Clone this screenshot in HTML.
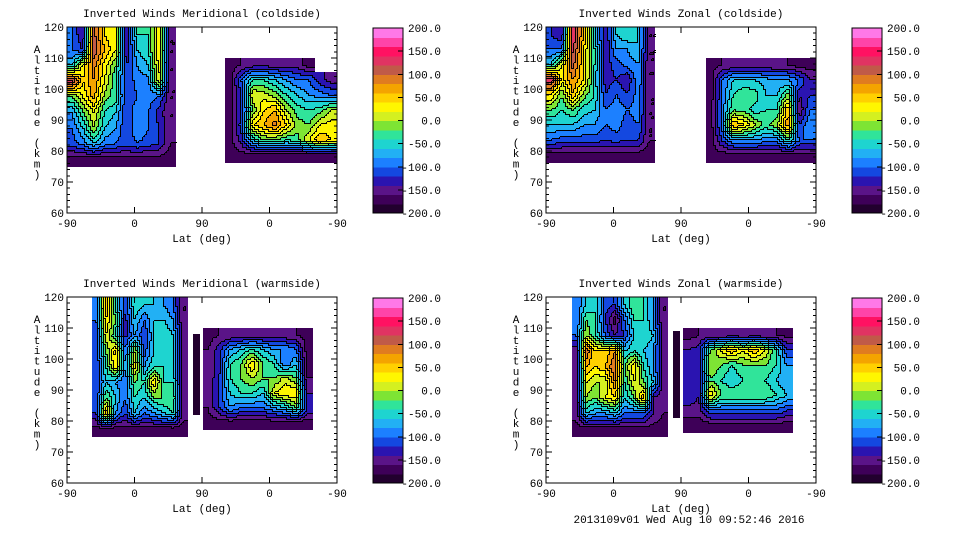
<!DOCTYPE html>
<html><head><meta charset="utf-8"><style>
body{margin:0;background:#fff;width:960px;height:540px;overflow:hidden}
svg{display:block}
text{font-family:"Liberation Mono","DejaVu Sans Mono",monospace;font-size:11px;fill:#000}
</style></head><body>
<svg id="fig" width="960" height="540" xmlns="http://www.w3.org/2000/svg" shape-rendering="crispEdges"></svg>
<script>
const levels=[-200,-180,-160,-140,-120,-100,-80,-60,-40,-20,0,20,40,60,80,100,120,140,160,180,200];
const cbarTicks=[-200,-150,-100,-50,0,50,100,150,200];
const altTicks=[60,70,80,90,100,110,120];
const latTickLabels=["-90","0","90","0","-90"];
const palette=["#22002e","#3e0058","#5a1488","#2a14b0","#1448e0","#1c80ff","#22b0f4","#1ed4d0","#30e49a","#7ee434","#d4f020","#fff600","#ffd000","#f4a400","#e07c20","#c05a48","#e03462","#ff1262","#ff44a8","#ff78e8"];
const titles=["Inverted Winds Meridional (coldside)","Inverted Winds Zonal (coldside)","Inverted Winds Meridional (warmside)","Inverted Winds Zonal (warmside)"];
const N=null;
const p1L=[[-100,-140,110,40,20,-140,-40,-40,40,-160],[-100,-120,120,60,20,-140,-60,-40,40,-160],[-60,30,90,30,-20,-120,-80,-60,30,-160],[130,40,80,20,-40,-120,-90,-90,20,-160],[-20,20,70,-10,-30,-120,-100,-90,-100,-160],[-80,-20,20,-40,-60,-120,-80,-100,-130,-160],[-100,-60,0,-60,-80,-120,-80,-100,-120,-160],[-110,-90,-60,-90,-100,-110,-100,-110,-120,-160],[-170,-170,-170,-170,-170,-170,-170,-170,-170,-170]];
const p1R=[[-170,-160,-150,-150,-150,-150,-150,-170,N,N],[-170,-100,-40,-40,-60,-80,-100,-100,-130,-150],[-170,-120,20,10,-10,-40,-60,-80,-90,-100],[-170,-120,-20,40,60,0,-30,-40,-30,0],[-170,-110,40,60,90,40,-10,-20,20,30],[-170,-130,-60,-20,-20,-40,-30,20,60,40],[-170,-170,-170,-170,-170,-170,-170,-170,-170,-170]];
const p2L=[[-120,-140,140,60,-60,-140,-60,-40,-60,-160],[-100,-100,130,40,-40,-140,-80,-80,-60,-160],[-60,20,110,40,-40,-130,-110,-90,-80,-160],[140,30,80,40,-50,-130,-120,-140,-80,-160],[40,-20,60,-10,-40,-120,-100,-120,-90,-160],[-20,-40,-20,-50,-60,-100,-90,-100,-90,-160],[-60,-60,-60,-80,-80,-100,-90,-110,-100,-160],[-100,-110,-110,-110,-110,-120,-110,-120,-120,-160],[-170,-170,-170,-170,-170,-170,-170,-170,-170,-170]];
const p2R=[[-170,-160,-160,-160,-160,-160,-160,-160,-170,-170],[-170,-100,-60,-60,-60,-70,-80,-80,-100,-140],[-170,-100,-40,-20,-30,-60,-60,-10,-140,-120],[-170,-90,-20,-30,-50,-40,-40,60,-160,-100],[-170,-90,60,40,0,-30,0,80,-120,-80],[-170,-120,-80,-80,-80,-90,-90,-40,-100,-100],[-170,-170,-170,-170,-170,-170,-170,-170,-170,-170]];
const p3L=[[-100,60,-40,-120,-40,-60,-60,-80,-100,-160],[-100,40,-20,-130,-60,-100,-60,-60,-80,-160],[-120,20,-40,-130,-80,-120,-60,-40,-60,-150],[-120,-20,50,-100,0,-110,-60,-40,-60,-150],[-120,-40,40,-80,30,-80,-40,-40,-60,-150],[-120,-60,-80,-100,-20,-40,40,-40,-40,-150],[-120,-20,-60,-100,-40,-60,-20,-20,-20,-150],[-120,60,-80,-120,-60,-100,-80,-60,-40,-150],[-170,-170,-170,-170,-170,-170,-170,-170,-170,-170]];
const p3S=[[-190]];
const p3R=[[-170,-160,-160,-160,-160,-160,-160,-160,-160,-170],[-160,-130,-80,-60,-40,-60,-80,-80,-100,-170],[-160,-130,-40,-20,40,-20,-40,-100,-60,-170],[-160,-120,-40,-20,0,-20,-20,10,-20,-160],[-160,-120,-60,-40,-40,-60,20,40,40,-140],[-160,-120,-80,-100,-100,-100,-80,-60,-20,-120],[-170,-170,-170,-170,-170,-170,-170,-170,-170,-170]];
const p4L=[[-100,-60,-40,-110,-120,-60,-20,-40,-80,-160],[-100,-20,-40,-120,-170,-100,-40,-40,-80,-160],[-100,0,-40,-100,-140,-120,-60,-40,-60,-150],[-160,100,40,40,80,-60,-40,-60,-80,-150],[-160,60,40,60,100,-20,40,-40,-80,-150],[-150,20,0,0,80,-40,20,-20,-60,-150],[-150,0,-20,20,40,-60,-20,60,-140,-150],[-150,-60,-80,-80,-60,-100,-100,-100,-140,-160],[-170,-170,-170,-170,-170,-170,-170,-170,-170,-170]];
const p4S=[[-190]];
const p4R=[[-170,-160,-160,-160,-160,-160,-160,-160,-160,-170],[-140,-130,-20,20,60,20,60,20,-40,-120],[-130,-130,0,-20,-40,-20,-20,-20,-40,-80],[-130,-130,-20,-40,-60,-40,-20,-40,-60,-80],[-120,-140,40,-20,-20,-20,-20,-20,-40,-60],[-150,-150,-100,-100,-100,-100,-100,-100,-100,-120],[-170,-170,-170,-170,-170,-170,-170,-170,-170,-170]];
const panels=[
 {x0:67,y0:27,blocks:[{u0:0,u1:145,a0:75,a1:120,v:p1L},{u0:211,u1:360,a0:76,a1:110,v:p1R}]},
 {x0:546,y0:27,blocks:[{u0:0,u1:145,a0:76,a1:120,v:p2L},{u0:213,u1:360,a0:76,a1:110,v:p2R}]},
 {x0:67,y0:297,blocks:[{u0:33,u1:161,a0:75,a1:120,v:p3L},{u0:168,u1:177,a0:82,a1:108,v:p3S},{u0:181,u1:328,a0:77,a1:110,v:p3R}]},
 {x0:546,y0:297,blocks:[{u0:35,u1:162,a0:75,a1:120,v:p4L},{u0:169,u1:179,a0:81,a1:109,v:p4S},{u0:183,u1:329,a0:76,a1:110,v:p4R}]}
];
const NS="http://www.w3.org/2000/svg";
const svg=document.getElementById('fig');
function el(tag,attrs,parent){const e=document.createElementNS(NS,tag);for(const k in attrs)e.setAttribute(k,attrs[k]);(parent||svg).appendChild(e);return e;}
function lvl(v){let i=Math.floor((v+200)/20);if(i<0)i=0;if(i>19)i=19;return i;}
function sample(b,fr,fc){
 const rows=b.v.length,cols=b.v[0].length;
 const nr=Math.min(rows-1,Math.max(0,Math.round(fr))),nc=Math.min(cols-1,Math.max(0,Math.round(fc)));
 if(b.v[nr][nc]===null)return null;
 const r0=Math.min(rows-1,Math.max(0,Math.floor(fr))),r1=Math.min(rows-1,r0+1);
 const c0=Math.min(cols-1,Math.max(0,Math.floor(fc))),c1=Math.min(cols-1,c0+1);
 const tr=Math.min(1,Math.max(0,fr-r0)),tc=Math.min(1,Math.max(0,fc-c0));
 let s=0,w=0;
 [[r0,c0,(1-tr)*(1-tc)],[r0,c1,(1-tr)*tc],[r1,c0,tr*(1-tc)],[r1,c1,tr*tc]].forEach(([r,c,ww])=>{const v=b.v[r][c];if(v!==null&&ww>0){s+=v*ww;w+=ww;}});
 return w>0?s/w:b.v[nr][nc];
}
const W=270,H=186,STEP=2;
panels.forEach((p,pi)=>{
 const g=el('g',{});
 
 
 const xs=u=>p.x0+u/360*W;
 const ys=a=>p.y0+(120-a)/60*H;
 p.blocks.forEach(b=>{
  const rows=b.v.length,cols=b.v[0].length;
  const X1=Math.round(xs(b.u0)),X2=Math.round(xs(b.u1)),Y1=Math.round(ys(b.a1)),Y2=Math.round(ys(b.a0));
  const nx=Math.ceil((X2-X1)/STEP),ny=Math.ceil((Y2-Y1)/STEP);
  const L=[];
  for(let j=0;j<ny;j++){L.push([]);const fr=((j+0.5)*STEP/(Y2-Y1))*rows-0.5;
   for(let i=0;i<nx;i++){const fc=((i+0.5)*STEP/(X2-X1))*cols-0.5;const v=sample(b,fr,fc);L[j].push(v===null?-1:lvl(v));}}
  const cg=el('g',{},g);
  
  
  for(let j=0;j<ny;j++){
   const y=Y1+j*STEP,h=Math.min(STEP,Y2-y);
   let i0=0;
   for(let i=1;i<=nx;i++){
    if(i===nx||L[j][i]!==L[j][i0]){
     if(L[j][i0]>=0){const x=X1+i0*STEP,xe=Math.min(X2,X1+i*STEP);
      el('rect',{x:x,y:y,width:xe-x,height:h,fill:palette[L[j][i0]]},cg);}
     i0=i;}
   }
  }
  let d="";
  for(let j=0;j<ny;j++)for(let i=0;i<nx;i++){
   const a=L[j][i];if(a<0)continue;
   const x=X1+i*STEP,y=Y1+j*STEP;
   if(i+1<nx&&L[j][i+1]>=0&&L[j][i+1]!==a)d+=`M${x+STEP-0.5} ${y}v${STEP}`;
   if(j+1<ny&&L[j+1][i]>=0&&L[j+1][i]!==a)d+=`M${x} ${y+STEP-0.5}h${STEP}`;
  }
  const cl=el('path',{d:d,stroke:'#000','stroke-width':1,fill:'none'},cg);
  
  
 });
 const fr=el('rect',{x:p.x0,y:p.y0,width:W,height:H,fill:'none',stroke:'#000','stroke-width':1},g);
 
 
 for(let a=60;a<=120;a+=2){const y=ys(a),len=(a%10===0)?6:3;
  el('line',{x1:p.x0,x2:p.x0+len,y1:y,y2:y,stroke:'#000'},g);
  el('line',{x1:p.x0+W,x2:p.x0+W-len,y1:y,y2:y,stroke:'#000'},g);}
 altTicks.forEach(a=>{const t=el('text',{x:p.x0-3,y:ys(a)+4,'text-anchor':'end'},g);t.textContent=a;
  });
 latTickLabels.forEach((l,i)=>{const x=p.x0+i*W/4;
  el('line',{x1:x,x2:x,y1:p.y0,y2:p.y0+6,stroke:'#000'},g);
  el('line',{x1:x,x2:x,y1:p.y0+H,y2:p.y0+H-6,stroke:'#000'},g);
  const t=el('text',{x:x,y:p.y0+H+14,'text-anchor':'middle'},g);t.textContent=l;
  });
 const tt=el('text',{x:p.x0+W/2,y:p.y0-10,'text-anchor':'middle'},g);tt.textContent=titles[pi];
 
 const xl=el('text',{x:p.x0+W/2,y:p.y0+H+29,'text-anchor':'middle'},g);xl.textContent='Lat (deg)';
 
 "Altitude (km)".split('').forEach((ch,i)=>{if(ch===' ')return;const t=el('text',{x:p.x0-30,y:p.y0+26+i*10.4,'text-anchor':'middle'},g);t.textContent=ch;
  });
 const cx=p.x0+306,cw=30;
 const cy=v=>p.y0+1+(200-v)/400*(H-1);
 for(let i=0;i<20;i++){const r=el('rect',{x:cx,y:cy(levels[i+1]),width:cw,height:cy(levels[i])-cy(levels[i+1])+0.5,fill:palette[i]},g);
  }
 el('rect',{x:cx,y:cy(200),width:cw,height:cy(-200)-cy(200),fill:'none',stroke:'#000'},g);
 cbarTicks.forEach(v=>{const y=cy(v);el('line',{x1:cx+cw-5,x2:cx+cw,y1:y,y2:y,stroke:'#000'},g);
  const t=el('text',{x:cx+68,y:y+4,'text-anchor':'end'},g);t.textContent=v.toFixed(1);
  });
});
const ft=el('text',{x:689,y:523,'text-anchor':'middle'});ft.textContent='2013109v01 Wed Aug 10 09:52:46 2016';

</script>
</body></html>
